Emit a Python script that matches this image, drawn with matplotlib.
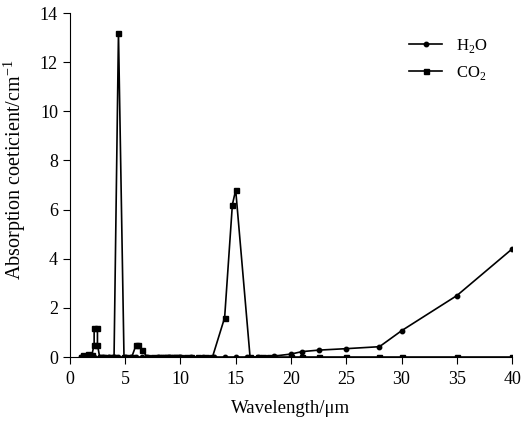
import matplotlib
matplotlib.use("Agg")
import matplotlib.pyplot as plt

plt.rcParams['font.family'] = ['Liberation Serif', 'DejaVu Serif']
plt.rcParams['mathtext.fontset'] = 'custom'
plt.rcParams['mathtext.rm'] = 'Liberation Serif'

# absorption coefficient data
co2_wl = [1.0, 1.2, 1.4, 1.6, 1.8, 2.0, 2.2, 2.2, 2.5, 2.5, 2.7, 3.0, 3.3, 3.6,
          3.9, 4.0, 4.4, 4.9, 5.2, 5.6, 6.0, 6.2, 6.5, 7.0, 7.5, 8.0, 8.2, 8.4,
          8.6, 8.8, 9.0, 9.2, 9.4, 9.6, 9.8, 10.0, 10.5, 11.0, 11.6, 12.3, 12.9,
          14.0, 14.7, 15.0, 16.3, 17.0, 17.5, 18.0, 18.5, 20.0, 21.0, 22.5,
          25.0, 28.0, 30.0, 35.0, 40.0]
co2_k = [0.0, 0.1, 0.05, 0.12, 0.1, 0.1, 0.5, 1.2, 1.2, 0.5, 0.0, 0.0, 0.0, 0.0,
         0.0, 0.0, 13.2, 0.0, 0.0, 0.0, 0.5, 0.5, 0.3, 0.0, 0.0, 0.0, 0.0, 0.0,
         0.0, 0.0, 0.0, 0.0, 0.0, 0.0, 0.0, 0.0, 0.0, 0.0, 0.0, 0.0, 0.0,
         1.6, 6.2, 6.8, 0.0, 0.0, 0.0, 0.0, 0.0, 0.0, 0.0, 0.0,
         0.0, 0.0, 0.0, 0.0, 0.0]

h2o_wl = [1.0, 1.4, 1.8, 2.2, 2.7, 3.0, 3.5, 4.0, 4.4, 5.0, 5.5, 6.0, 6.5, 7.0,
          8.0, 9.0, 10.0, 11.0, 12.0, 13.0, 14.0, 15.0, 16.0, 17.0, 18.5,
          20.0, 21.0, 22.5, 25.0, 28.0, 30.0, 35.0, 40.0]
h2o_k = [0.0, 0.0, 0.0, 0.0, 0.0, 0.0, 0.0, 0.0, 0.0, 0.0, 0.0, 0.0, 0.0, 0.0,
         0.0, 0.0, 0.0, 0.0, 0.0, 0.0, 0.0, 0.0, 0.0, 0.0, 0.04,
         0.12, 0.22, 0.28, 0.34, 0.42, 1.07, 2.5, 4.4]

fig = plt.figure(figsize=(5.21, 4.22), dpi=100)
ax = fig.add_axes([0.134, 0.154, 0.849, 0.815])

ax.plot(h2o_wl, h2o_k, color='black', lw=1.2, marker='o', ms=3.2, label='H$_2$O')
ax.plot(co2_wl, co2_k, color='black', lw=1.2, marker='s', ms=3.6, label='CO$_2$')

ax.set_xlim(0, 40)
ax.set_ylim(0, 14)
ax.set_xticks(range(0, 41, 5))
ax.set_yticks(range(0, 15, 2))
ax.spines['top'].set_visible(False)
ax.spines['right'].set_visible(False)
ax.tick_params(direction='out', length=5, labelsize=13, colors='black')
ax.tick_params(axis='x', pad=5)
ax.set_xlabel('Wavelength/\u03bcm', fontsize=13.5)
ax.set_ylabel('Absorption coeticient/cm$^{-1}$', fontsize=14.5)
ax.xaxis.set_label_coords(0.5, -0.125)
ax.yaxis.set_label_coords(-0.094, 0.545)

ax.legend(loc='upper right', frameon=False, fontsize=12, handlelength=2.0,
          bbox_to_anchor=(0.978, 0.975), labelspacing=0.55)

fig.savefig('out.png', dpi=100)
